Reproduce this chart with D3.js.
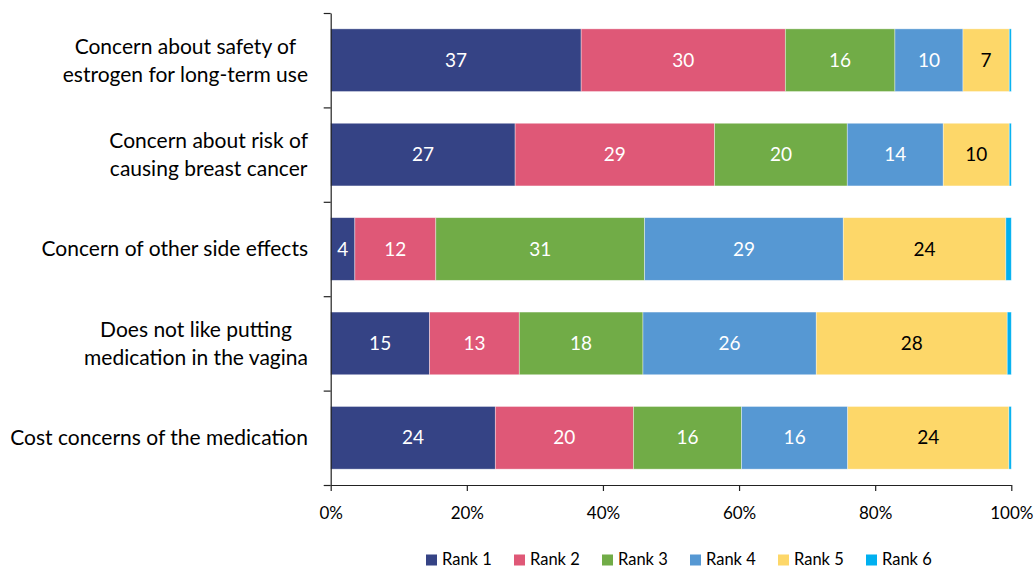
<!DOCTYPE html>
<html>
<head>
<meta charset="utf-8">
<script src="https://cdn.jsdelivr.net/npm/d3@7"></script>
<style>
  html, body { margin: 0; padding: 0; background: #fff; }
  svg { display: block; font-family: Lato, "Open Sans", sans-serif; }
</style>
</head>
<body>
<svg id="chart" width="1036" height="569"></svg>
<script>
// Reasons for not using vaginal estrogen, share of respondents by rank (%)
const categories = [
  ["Concern about safety of", "estrogen for long-term use"],
  ["Concern about risk of", "causing breast cancer"],
  ["Concern of other side effects"],
  ["Does not like putting", "medication in the vagina"],
  ["Cost concerns of the medication"]
];
const seriesNames = ["Rank 1", "Rank 2", "Rank 3", "Rank 4", "Rank 5", "Rank 6"];
const rank1 = [36.8, 27.1, 3.55, 14.55, 24.2];
const rank2 = [30.0, 29.3, 11.9, 13.2, 20.3];
const rank3 = [16.1, 19.5, 30.7, 18.2, 15.9];
const rank4 = [10.0, 14.1, 29.2, 25.5, 15.6];
const rank5 = [6.8, 9.7, 23.9, 28.1, 23.7];
const rank6 = [0.3, 0.3, 0.8, 0.6, 0.35];
const xTickValues = [0, 0.2, 0.4, 0.6, 0.8, 1];

const colors = ["#354385", "#df5877", "#71ac47", "#5698d3", "#fdd769", "#00b0f0"];
const labelColors = ["#fff", "#fff", "#fff", "#fff", "#000", "#000"];

const seriesValues = [rank1, rank2, rank3, rank4, rank5, rank6];
const keys = categories.map(c => c.join(" "));
const rows = keys.map((k, i) => {
  const r = { cat: k };
  seriesNames.forEach((s, j) => r[s] = seriesValues[j][i]);
  return r;
});

const svg = d3.select("#chart");
const plotLeft = 330.7, plotRight = 1011.3, plotTop = 13, plotBottom = 485;

const x = d3.scaleLinear().domain([0, 1]).range([plotLeft, plotRight]);
const y = d3.scaleBand().domain(keys).range([plotTop, plotBottom])
  .paddingInner(0.336).paddingOuter(0.168);

const stacked = d3.stack().keys(seriesNames).offset(d3.stackOffsetExpand)(rows);

const layers = svg.append("g").selectAll("g").data(stacked).join("g")
  .attr("fill", (d, i) => colors[i]);

layers.selectAll("rect").data(d => d).join("rect")
  .attr("x", d => x(d[0]))
  .attr("y", d => y(d.data.cat))
  .attr("width", d => x(d[1]) - x(d[0]))
  .attr("height", y.bandwidth())
  .attr("stroke", "#fff")
  .attr("stroke-opacity", 0.5)
  .attr("stroke-width", 0.75);

// value labels (Ranks 1-5)
stacked.forEach((layer, i) => {
  if (i === 5) return;
  svg.append("g").selectAll("text").data(layer).join("text")
    .attr("x", d => (x(d[0]) + x(d[1])) / 2)
    .attr("y", d => y(d.data.cat) + y.bandwidth() / 2)
    .attr("dy", "0.35em")
    .attr("text-anchor", "middle")
    .attr("font-size", 19)
    .attr("fill", labelColors[i])
    .text(d => Math.round(d.data[seriesNames[i]]));
});

// category axis: ticks at band boundaries
const boundary = d3.scaleLinear().domain([0, keys.length]).range([plotTop, plotBottom]);
svg.append("g")
  .attr("transform", `translate(${plotLeft},0)`)
  .call(d3.axisLeft(boundary).tickValues(d3.range(keys.length + 1))
    .tickFormat("").tickSize(7).tickSizeOuter(0))
  .call(g => g.selectAll("path, line").attr("stroke", "#222").attr("stroke-width", 1.2));

// category labels: block right-aligned to the axis, lines centred within it
const labelRight = 308;
const catLabels = svg.append("g").selectAll("text").data(categories).join("text")
  .attr("text-anchor", "middle")
  .attr("font-size", 21)
  .attr("fill", "#000");
catLabels.each(function(lines, i) {
  const cy = y(keys[i]) + y.bandwidth() / 2;
  const t = d3.select(this);
  const spans = lines.map((ln, j) => t.append("tspan")
      .attr("y", cy + (j - (lines.length - 1) / 2) * 28)
      .attr("dy", "0.35em")
      .text(ln));
  const maxW = d3.max(spans, s => s.node().getComputedTextLength());
  spans.forEach(s => s.attr("x", labelRight - maxW / 2));
});

// percentage axis
svg.append("g")
  .attr("transform", `translate(0,${plotBottom})`)
  .call(d3.axisBottom(x).tickValues(xTickValues).tickFormat(d3.format(".0%"))
    .tickSize(6).tickSizeOuter(0).tickPadding(16))
  .call(g => g.selectAll("path, line").attr("stroke", "#222").attr("stroke-width", 1.2))
  .call(g => g.selectAll("text").attr("font-size", 17).attr("fill", "#000")
    .attr("font-family", "Lato, 'Open Sans', sans-serif"));

// legend
const legend = svg.append("g").selectAll("g").data(seriesNames).join("g")
  .attr("transform", (d, i) => `translate(${426 + i * 88},0)`);
legend.append("rect")
  .attr("x", 0).attr("y", 554.5).attr("width", 11).attr("height", 11)
  .attr("fill", (d, i) => colors[i]);
legend.append("text")
  .attr("x", 16).attr("y", 565)
  .attr("font-size", 16.5).attr("fill", "#000")
  .text(d => d);
</script>
</body>
</html>
